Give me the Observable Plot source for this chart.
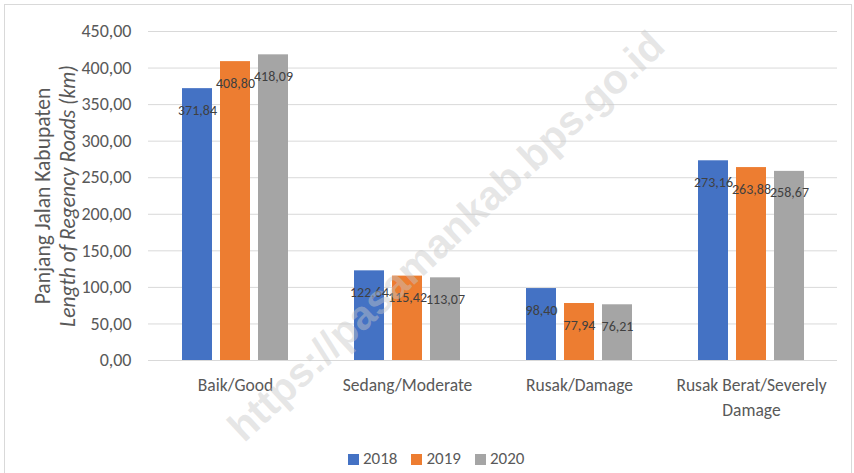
<!DOCTYPE html>
<html>
<head>
<meta charset="utf-8">
<script src="https://cdn.jsdelivr.net/npm/d3@7"></script>
<script src="https://cdn.jsdelivr.net/npm/@observablehq/plot@0.6"></script>
<style>
  html, body { margin: 0; padding: 0; background: #fff; }
  body { width: 854px; height: 473px; position: relative; overflow: hidden;
         font-family: Carlito, Calibri, Lato, "Open Sans", sans-serif; }
  #frame { position: absolute; left: 4px; top: 4px; width: 848px; height: 470px;
           border: 1px solid #d9d9d9; box-sizing: border-box; }
  #chart { position: absolute; left: 0; top: 0; }
  #legend { position: absolute; left: 348px; top: 448px; white-space: nowrap;
            font-size: 17px; line-height: 21px; color: #595959; }
  #legend span.item { display: inline-block; margin-right: 14px; }
  #legend span.sw { display: inline-block; width: 11px; height: 11px; margin-right: 4px; vertical-align: -1px; }
  #wm { position: absolute; left: 446px; top: 236px; transform: translate(-50%, -50%) rotate(-43deg);
        font-family: "Liberation Sans", Arial, sans-serif; font-weight: bold; font-size: 41px; line-height: 44px;
        color: rgba(200,200,200,0.45); white-space: nowrap; pointer-events: none; }
</style>
</head>
<body>
<div id="frame"></div>
<div id="chart"></div>
<div id="legend"></div>
<div id="wm">https://pasamankab.bps.go.id</div>
<script>
const categories = ["Baik/Good", "Sedang/Moderate", "Rusak/Damage", "Rusak Berat/Severely Damage"];
const categoryLabels = ["Baik/Good", "Sedang/Moderate", "Rusak/Damage", "Rusak Berat/Severely\nDamage"];
const years = ["2018", "2019", "2020"];
const v2018 = [371.84, 122.64, 98.40, 273.16];
const v2019 = [408.80, 115.42, 77.94, 263.88];
const v2020 = [418.09, 113.07, 76.21, 258.67];
const yTicks = [0, 50, 100, 150, 200, 250, 300, 350, 400, 450];
const colors = ["#4472C4", "#ED7D31", "#A5A5A5"];

const series = [v2018, v2019, v2020];
const fmt = d => d.toFixed(2).replace(".", ",");
const FONT = 'Carlito, Calibri, Lato, "Open Sans", sans-serif';

const barStep = 38, barW = 30, groupW = 106;

const marks = [
  Plot.gridY(yTicks, { stroke: "#d9d9d9", strokeOpacity: 1, strokeWidth: 1 }),
];
series.forEach((vals, i) => {
  const rows = categories.map((c, j) => ({ category: c, value: vals[j], year: years[i] }));
  marks.push(Plot.barY(rows, {
    x: "category", y: "value", fill: colors[i],
    insetLeft: barStep * i, insetRight: groupW - barW - barStep * i
  }));
  marks.push(Plot.text(rows, {
    x: "category", y: "value", text: d => fmt(d.value),
    dx: (i - 1) * barStep, dy: 21.5, fontSize: 14, fill: "#404040"
  }));
});
marks.push(
  Plot.axisY(yTicks, { tickSize: 0, tickPadding: 17, tickFormat: fmt, fontSize: 18, fill: "#595959", label: null }),
  Plot.axisX({ tickSize: 0, tickPadding: 13, fontSize: 17.5, fill: "#595959", label: null,
               tickFormat: c => categoryLabels[categories.indexOf(c)], lineHeight: 1.43 }),
  Plot.text(["Panjang Jalan Kabupaten"], { frameAnchor: "left", textAnchor: "middle", rotate: -90, dx: -105, fontSize: 21.5, fill: "#595959", text: d => d }),
  Plot.text(["Length of Regency Roads (km)"], { frameAnchor: "left", textAnchor: "middle", rotate: -90, dx: -80, fontSize: 21.5, fill: "#595959", fontStyle: "italic", text: d => d })
);

const chart = Plot.plot({
  width: 854,
  height: 440,
  marginLeft: 148,
  marginRight: 17,
  marginTop: 31,
  marginBottom: 80,
  style: { fontFamily: FONT, background: "transparent", overflow: "visible" },
  x: { domain: categories, paddingInner: 0.384, paddingOuter: 0.192, axis: null },
  y: { domain: [0, 450], axis: null },
  marks
});
document.getElementById("chart").appendChild(chart);

const legend = document.getElementById("legend");
years.forEach((y, i) => {
  const item = document.createElement("span");
  item.className = "item";
  item.innerHTML = `<span class="sw" style="background:${colors[i]}"></span>${y}`;
  legend.appendChild(item);
});
</script>
</body>
</html>
